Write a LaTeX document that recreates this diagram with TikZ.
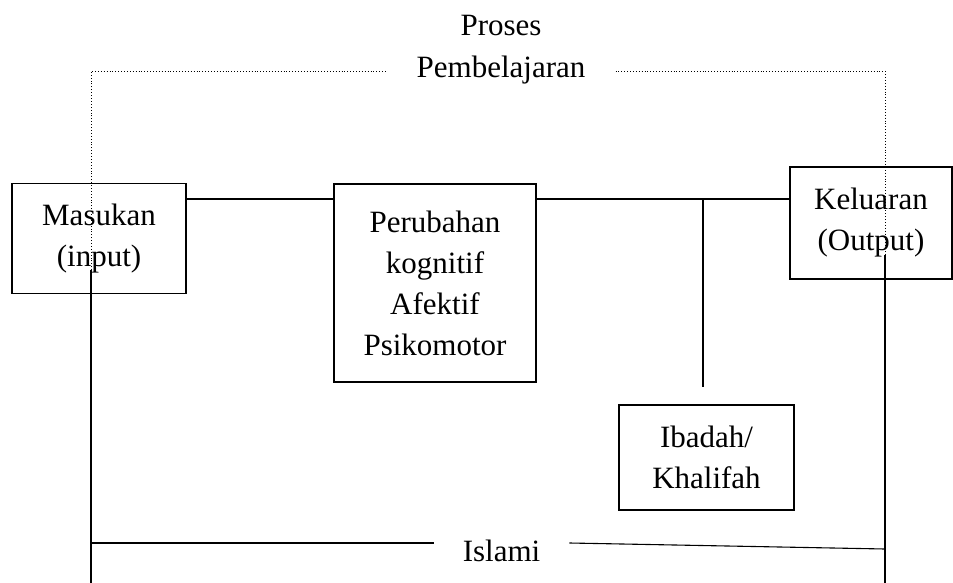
\documentclass[tikz,border=0pt]{standalone}
\usepackage{fontspec}
\setmainfont{Liberation Serif}
\usetikzlibrary{positioning}

\begin{document}
\begin{tikzpicture}[x=1pt,y=-1pt,
    box/.style={draw,line width=1.1pt,align=center,inner sep=0pt,
      font=\fontsize{31}{41}\selectfont},
    caption/.style={align=center,font=\fontsize{31}{41}\selectfont},
    link/.style={line width=1.1pt},
    frame/.style={dotted,line width=0.9pt}]
  \useasboundingbox (0,0) rectangle (953,583);
  % boxes
  \node[box,minimum width=174pt,minimum height=110pt] (masukan) at (99,238.5) {Masukan\\(input)};
  \node[box,minimum width=202pt,minimum height=198pt] (perubahan) at (435,283) {Perubahan\\kognitif\\Afektif\\Psikomotor};
  \node[box,minimum width=162pt,minimum height=112pt] (keluaran) at (871,223) {Keluaran\\(Output)};
  \node[box,minimum width=175pt,minimum height=105pt] (ibadah) at (706.5,457.5) {Ibadah/\\Khalifah};
  % labels
  \node[caption,anchor=base] (proses) at (501,36) {Proses};
  \node[caption,anchor=base,inner xsep=30pt] (pembel) at (501,78) {Pembelajaran};
  \node[caption,anchor=base,inner xsep=29pt] (islami) at (501.5,561) {Islami};
  % points
  \coordinate (bus) at (0,199);
  \coordinate (tap) at (703,199);
  \coordinate (tapend) at (703,387);
  \coordinate (frameL) at (91,71);
  \coordinate (frameLmid) at (91,270);
  \coordinate (frameLbot) at (91,583);
  \coordinate (frameR) at (885,71);
  \coordinate (frameRmid) at (885,255);
  \coordinate (frameRbot) at (885,583);
  \coordinate (islL) at (91,543);
  \coordinate (islR) at (885,549);
  % connectors
  \draw[link] (masukan.east |- bus) -- (perubahan.west |- bus);
  \draw[link] (perubahan.east |- bus) -- (keluaran.west |- bus);
  \draw[link] (tap) -- (tapend);
  % frame
  \draw[frame] (frameLmid) -- (frameL) -- (frameL -| pembel.west);
  \draw[frame] (pembel.east |- frameR) -- (frameR) -- (frameRmid);
  \draw[link] (frameLmid) -- (frameLbot);
  \draw[link] (frameRmid) -- (frameRbot);
  \draw[link] (islL) -- (islL -| islami.west);
  \draw[link] (islami.east |- islL) -- (islR);
\end{tikzpicture}
\end{document}
